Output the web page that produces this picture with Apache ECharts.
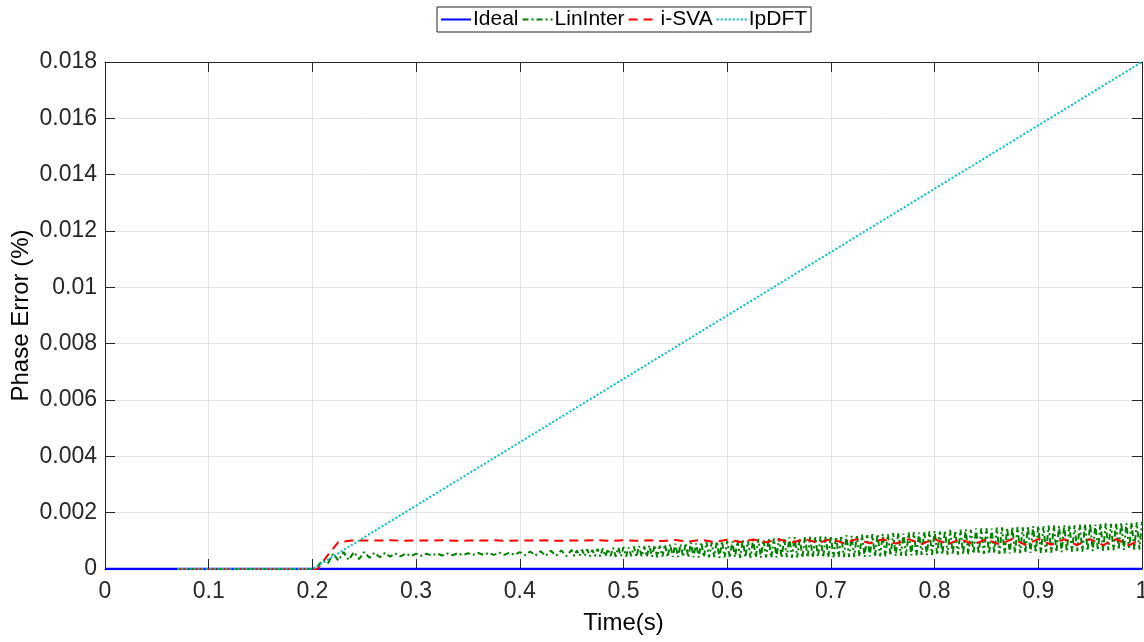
<!DOCTYPE html>
<html>
<head>
<meta charset="utf-8">
<script src="https://cdn.jsdelivr.net/npm/echarts@6/dist/echarts.min.js"></script>
<style>
html,body{margin:0;padding:0;background:#fff;}
#chart{width:1144px;height:642px;}
</style>
</head>
<body>
<div id="chart"></div>
<script>
// ---- data ----
const xTicks = [0,0.1,0.2,0.3,0.4,0.5,0.6,0.7,0.8,0.9,1];
const yTicks = [0,0.002,0.004,0.006,0.008,0.01,0.012,0.014,0.016,0.018];

const idealPoints = [[0,0],[1,0]];

// LinInter: zero until 0.2
const linInterPre = [[0.07,0],[0.2,0]];
// segment 1: 0.2 .. 0.445, every 0.005 s
const linInterStart1 = 0.2;
const linInterStep1 = 0.005;
const linInterValues1 = [
  0,0.0001,0.0003,0.0002,0.00055,0.0003,0.0006,0.00032,0.0006,0.00035,
  0.0006,0.0004,0.00058,0.00042,0.00057,0.00044,0.00055,0.00045,0.00055,0.00046,
  0.00054,0.00047,0.00054,0.00048,0.00055,0.00048,0.00055,0.00049,0.00056,0.00049,
  0.00056,0.0005,0.00057,0.0005,0.00057,0.0005,0.00058,0.0005,0.00058,0.0005,
  0.0006,0.00049,0.00062,0.00048,0.00063,0.00047,0.00065,0.00047,0.00066,0.00046
];
// segment 2: 0.45 .. 1.0, every 0.0025 s
const linInterStart2 = 0.45;
const linInterStep2 = 0.0025;
const linInterValues2 = [
  0.00068,0.00046,0.00066,0.00047,0.00069,0.00046,0.0007,0.00045,0.00068,0.00046,0.00072,0.00045,0.00073,0.00045,0.00071,0.00046,0.00075,0.00044,0.00076,0.00045,
  0.00078,0.00044,0.00076,0.00045,0.0008,0.00043,0.00082,0.00044,0.0008,0.00043,0.00084,0.00043,0.00085,0.00042,0.00083,0.00044,0.00087,0.00042,0.00088,0.00043,
  0.0009,0.00042,0.00088,0.00043,0.00092,0.00041,0.00094,0.00042,0.00091,0.00041,0.00095,0.00042,0.00097,0.00041,0.00094,0.00042,0.00098,0.0004,0.00099,0.00041,
  0.001,0.0004,0.00098,0.00042,0.00102,0.0004,0.00104,0.00041,0.00101,0.0004,0.00105,0.00041,0.00107,0.0004,0.00104,0.00041,0.00108,0.0004,0.00109,0.00041,
  0.0011,0.0004,0.00108,0.00042,0.00112,0.0004,0.00113,0.00041,0.0011,0.0004,0.00114,0.00041,0.00115,0.0004,0.00113,0.00042,0.00116,0.0004,0.00116,0.00041,
  0.00117,0.00041,0.00115,0.00043,0.00119,0.00042,0.0012,0.00043,0.00118,0.00042,0.00121,0.00044,0.00122,0.00043,0.0012,0.00045,0.00124,0.00044,0.00124,0.00045,
  0.00125,0.00045,0.00123,0.00047,0.00127,0.00046,0.00129,0.00047,0.00126,0.00047,0.0013,0.00048,0.00131,0.00048,0.00129,0.0005,0.00133,0.00049,0.00134,0.0005,
  0.00135,0.0005,0.00133,0.00052,0.00137,0.00051,0.00139,0.00052,0.00136,0.00051,0.0014,0.00052,0.00141,0.00052,0.00139,0.00054,0.00143,0.00053,0.00144,0.00054,
  0.00145,0.00053,0.00143,0.00055,0.00147,0.00054,0.00148,0.00055,0.00146,0.00055,0.00149,0.00056,0.0015,0.00056,0.00148,0.00058,0.00151,0.00057,0.00152,0.00058,
  0.00153,0.00057,0.00151,0.00059,0.00154,0.00058,0.00155,0.0006,0.00153,0.0006,0.00156,0.00061,0.00157,0.00062,0.00155,0.00063,0.00158,0.00062,0.00159,0.00064,
  0.0016,0.00064,0.00158,0.00066,0.00161,0.00065,0.00162,0.00067,0.0016,0.00067,0.00163,0.00068,0.00164,0.00068,0.00162,0.0007,0.00165,0.00069,0.00166,0.0007,
  0.00167
];

// i-SVA: rise at 0.2, then sampled every 0.0125 s from 0.25 to 1.0
const isvaPre = [[0.07,0],[0.205,0],[0.215,0.0005],[0.225,0.00095],[0.2375,0.00101]];
const isvaStart = 0.25;
const isvaStep = 0.0125;
const isvaValues = [
  0.00101,0.00101,0.00102,0.001,0.00101,0.00101,0.00102,0.001,
  0.00101,0.00101,0.00102,0.001,0.00101,0.00101,0.00102,0.001,
  0.00101,0.00101,0.00102,0.001,0.00102,0.001,0.00102,0.00099,
  0.00103,0.00097,0.00104,0.00096,0.00104,0.00096,0.00105,0.00095,
  0.00105,0.00094,0.00106,0.00093,0.00106,0.00092,0.00106,0.00091,
  0.00106,0.0009,0.00106,0.00089,0.00106,0.00088,0.00106,0.00087,
  0.00106,0.00087,0.00106,0.00086,0.00106,0.00086,0.00106,0.00085,
  0.00106,0.00085,0.00106,0.00085,0.00105
];

const ipdftPoints = [[0.07,0],[0.2,0],[1.0,0.018]];

const seriesNames = ['Ideal','LinInter','i-SVA','IpDFT'];

// ---- build ----
function sampled(start, step, vals){
  return vals.map((v,i)=>[+(start + i*step).toFixed(5), v]);
}
const linInterData = linInterPre
  .concat(sampled(linInterStart1, linInterStep1, linInterValues1))
  .concat(sampled(linInterStart2, linInterStep2, linInterValues2));
const isvaData = isvaPre.concat(sampled(isvaStart, isvaStep, isvaValues));

const FONT = 'Liberation Sans, Arial, Helvetica, sans-serif';
const AX = '#262626';

const chart = echarts.init(document.getElementById('chart'), null, {renderer:'canvas'});
const fmt = v => String(parseFloat(Number(v).toFixed(4)));

chart.setOption({
  animation:false,
  backgroundColor:'#fff',
  grid:{left:105, right:2, top:62, bottom:73, containLabel:false, outerBoundsMode:'none'},
  legend:{
    data:seriesNames,
    top:7, left:437,
    borderColor:AX, borderWidth:1, borderRadius:0,
    padding:[2,4,2,3], itemGap:3, itemWidth:30, itemHeight:20,
    itemStyle:{opacity:0},
    textStyle:{fontFamily:FONT, fontSize:21, color:'#000', padding:[0,0,0,-3]}
  },
  xAxis:[{
    type:'value', min:0, max:1, interval:0.1, position:'bottom',
    name:'Time(s)', nameLocation:'middle', nameGap:42, nameMoveOverlap:false,
    nameTextStyle:{fontFamily:FONT, fontSize:24, color:'#000'},
    axisLine:{show:true, onZero:false, lineStyle:{color:AX, width:1}},
    axisTick:{show:true, inside:true, length:10, lineStyle:{color:AX}},
    axisLabel:{fontFamily:FONT, fontSize:23, color:AX, margin:11, formatter:fmt},
    splitLine:{show:true, lineStyle:{color:'#e3e3e3', width:1}}
  },{
    type:'value', min:0, max:1, interval:0.1, position:'top',
    axisLine:{show:true, onZero:false, lineStyle:{color:AX, width:1}},
    axisTick:{show:true, inside:true, length:10, lineStyle:{color:AX}},
    axisLabel:{show:false}, splitLine:{show:false}
  }],
  yAxis:[{
    type:'value', min:0, max:0.018, interval:0.002, position:'left',
    name:'Phase Error (%)', nameLocation:'middle', nameGap:72, nameMoveOverlap:false,
    nameTextStyle:{fontFamily:FONT, fontSize:24, color:'#000'},
    axisLine:{show:true, onZero:false, lineStyle:{color:AX, width:1}},
    axisTick:{show:true, inside:true, length:10, lineStyle:{color:AX}},
    axisLabel:{fontFamily:FONT, fontSize:23, color:AX, margin:8, formatter:fmt},
    splitLine:{show:true, lineStyle:{color:'#e3e3e3', width:1}}
  },{
    type:'value', min:0, max:0.018, interval:0.002, position:'right',
    axisLine:{show:true, onZero:false, lineStyle:{color:AX, width:1}},
    axisTick:{show:true, inside:true, length:10, lineStyle:{color:AX}},
    axisLabel:{show:false}, splitLine:{show:false}
  }],
  series:[
    {name:'Ideal', type:'line', data:idealPoints, symbol:'none',
     lineStyle:{color:'#0000ff', width:2.5, type:'solid'}, itemStyle:{color:'#0000ff'}},
    {name:'LinInter', type:'line', data:linInterData, symbol:'none',
     lineStyle:{color:'#008000', width:2, type:[6,3,2,3]}, itemStyle:{color:'#008000'}},
    {name:'i-SVA', type:'line', data:isvaData, symbol:'none',
     lineStyle:{color:'#ff0000', width:2, type:[9,6]}, itemStyle:{color:'#ff0000'}},
    {name:'IpDFT', type:'line', data:ipdftPoints, symbol:'none',
     lineStyle:{color:'#00bfbf', width:2, type:[2,2]}, itemStyle:{color:'#00bfbf'}}
  ]
});
</script>
</body>
</html>
